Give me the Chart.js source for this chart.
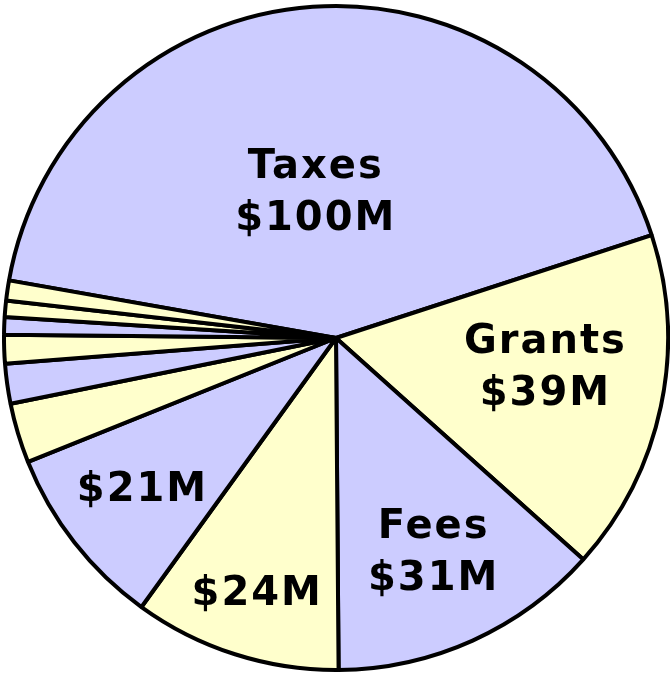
<!DOCTYPE html>
<html>
<head>
<meta charset="utf-8">
<script src="https://cdn.jsdelivr.net/npm/chart.js@4"></script>
<style>
  html, body { margin: 0; padding: 0; background: #fff; }
  #wrap { width: 670px; height: 673px; }
</style>
</head>
<body>
<div id="wrap"><canvas id="revenueChart"></canvas></div>
<script>
// revenue sources, $ millions, clockwise from Taxes
const categories = ['Taxes', 'Grants', 'Fees', '', '', '', '', '', '', '', ''];
const values = [100, 39.4, 31.4, 23.9, 21.2, 6.9, 4.6, 3.3, 2.0, 1.9, 2.3];
const valueLabels = ['$100M', '$39M', '$31M', '$24M', '$21M', '', '', '', '', '', ''];

const LAVENDER = '#ccccff';
const CREAM = '#ffffcc';
// alternating, the last small slice stays cream so it doesn't touch Taxes
const sliceColors = [LAVENDER, CREAM, LAVENDER, CREAM, LAVENDER, CREAM, LAVENDER, CREAM, LAVENDER, CREAM, CREAM];

// label placement: fraction of radius along the mid angle, plus a small nudge
const labelRadius = [0.44, 0.62, 0.70, 0.80, 0.74];
const labelNudge = [[-10, -2], [8, -15], [2, 0], [2, 0], [0, -2]];

const sliceLabels = {
    id: 'sliceLabels',
    afterDatasetsDraw(chart) {
        const ctx = chart.ctx;
        const arcs = chart.getDatasetMeta(0).data;
        ctx.save();
        ctx.fillStyle = '#000';
        ctx.textAlign = 'center';
        ctx.textBaseline = 'alphabetic';
        ctx.font = 'bold 40px "DejaVu Sans", Verdana, sans-serif';
        if ('letterSpacing' in ctx) ctx.letterSpacing = '2px';
        arcs.forEach((arc, i) => {
            if (!valueLabels[i]) return;
            const p = arc.getProps(['x', 'y', 'startAngle', 'endAngle', 'outerRadius'], true);
            const mid = (p.startAngle + p.endAngle) / 2;
            const r = p.outerRadius * (labelRadius[i] || 0.7);
            const nudge = labelNudge[i] || [0, 0];
            const cx = p.x + Math.cos(mid) * r + nudge[0];
            const cy = p.y + Math.sin(mid) * r + nudge[1];
            if (categories[i]) {
                ctx.fillText(categories[i], cx, cy - 12);
                ctx.fillText(valueLabels[i], cx, cy + 40);
            } else {
                ctx.fillText(valueLabels[i], cx, cy + 14);
            }
        });
        ctx.restore();
    }
};

new Chart(document.getElementById('revenueChart'), {
    type: 'pie',
    data: {
        labels: categories,
        datasets: [{
            data: values,
            backgroundColor: sliceColors,
            borderColor: '#000',
            borderWidth: 4,
            hoverOffset: 0
        }]
    },
    options: {
        responsive: true,
        maintainAspectRatio: false,
        animation: false,
        rotation: -80,
        layout: { padding: { left: 2, right: 0, top: 3, bottom: 0 } },
        plugins: {
            legend: { display: false },
            tooltip: { enabled: false }
        }
    },
    plugins: [sliceLabels]
});
</script>
</body>
</html>
